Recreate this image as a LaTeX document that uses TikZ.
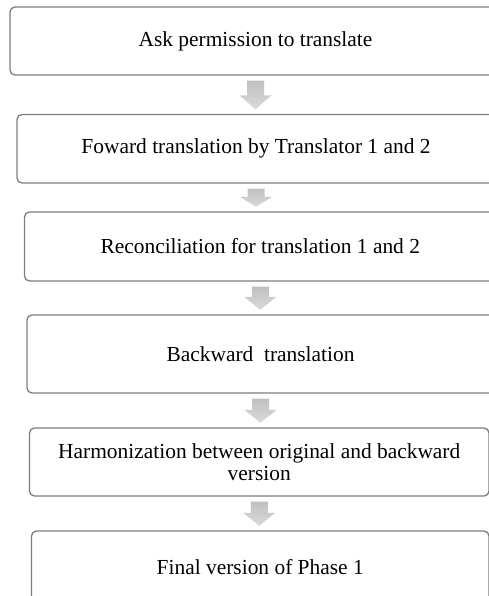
\documentclass[tikz,border=0pt]{standalone}
\usepackage{fontspec}
\setmainfont{Liberation Serif}
\usetikzlibrary{calc}
\definecolor{boxgray}{RGB}{125,125,125}
\definecolor{arrowtop}{RGB}{192,192,192}
\definecolor{arrowbot}{RGB}{218,218,218}
\tikzset{
  stepbox/.style={draw=boxgray, line width=1.3bp, rounded corners=5bp, fill=white,
    inner sep=0pt, align=center, text=black,
    font=\fontsize{21.5}{22}\selectfont},
  flowarrow/.style={top color=arrowtop, bottom color=arrowbot, draw=none}
}
\newcommand\blockarrow[3]{%
  \path[flowarrow] let \p1=(#1.south), \p2=(#2.north) in
    (\x1-8.5bp,\y1-5bp) -- (\x1+8.5bp,\y1-5bp) -- (\x1+8.5bp,\y2+4.5bp+#3)
    -- (\x1+16bp,\y2+4.5bp+#3) -- (\x1,\y2+4.5bp) -- (\x1-16bp,\y2+4.5bp+#3)
    -- (\x1-8.5bp,\y2+4.5bp+#3) -- cycle;}
\begin{document}
\begin{tikzpicture}[x=1bp,y=-1bp]
\useasboundingbox (0,0) rectangle (489,596);
\node[stepbox, minimum width=491bp, minimum height=68bp] (b1) at (255.5,41) {Ask permission to translate};
\node[stepbox, minimum width=478bp, minimum height=68.5bp] (b2) at (256,148.75) {Foward translation by Translator 1 and 2};
\node[stepbox, minimum width=471.5bp, minimum height=69bp] (b3) at (260.25,246.5) {Reconciliation for translation 1 and 2};
\node[stepbox, minimum width=467bp, minimum height=78bp] (b4) at (260.5,354) {Backward\ \ translation};
\node[stepbox, minimum width=459.5bp, minimum height=68bp] (b5) at (259.25,462) {Harmonization between original and backward\\version};
\node[stepbox, minimum width=457.5bp, minimum height=72bp] (b6) at (260.25,567) {Final version of Phase 1};
\blockarrow{b1}{b2}{14bp}
\blockarrow{b2}{b3}{10bp}
\blockarrow{b3}{b4}{13bp}
\blockarrow{b4}{b5}{13bp}
\blockarrow{b5}{b6}{13bp}
\end{tikzpicture}
\end{document}
